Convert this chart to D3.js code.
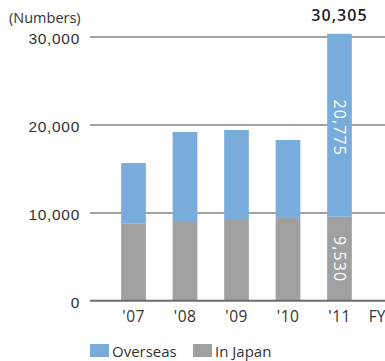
<!DOCTYPE html>
<html>
<head>
<meta charset="utf-8">
<script src="https://cdn.jsdelivr.net/npm/d3@7"></script>
<style>
  html, body { margin: 0; padding: 0; background: #fff; }
  svg { display: block; font-family: "Open Sans", "Noto Sans", sans-serif; }
</style>
</head>
<body>
<svg id="chart" width="385" height="361"></svg>
<script>
// Fiscal years shown on the x axis
const years = ["'07", "'08", "'09", "'10", "'11"];
// Units sold, split by market
const inJapan  = [8730, 8920, 9150, 9380, 9530];
const overseas = [6890, 10230, 10230, 8860, 20775];
// Value axis ticks
const yTicks = [0, 10000, 20000, 30000];
const seriesNames = ["In Japan", "Overseas"];
const colors = { "In Japan": "#a0a0a0", "Overseas": "#78addb" };

const svg = d3.select("#chart");
const fmt = d3.format(",");

const rows = years.map((y, i) => ({ year: y, "In Japan": inJapan[i], "Overseas": overseas[i] }));
const stacked = d3.stack().keys(seriesNames)(rows);

const x = d3.scaleBand().domain(years).range([107.75, 365.25]).paddingInner(0.52).paddingOuter(0.26);
const y = d3.scaleLinear().domain([0, 30000]).range([300.5, 36.5]);

// gridlines + tick labels
const axis = svg.append("g")
  .attr("transform", "translate(90,0)")
  .call(d3.axisLeft(y).tickValues(yTicks).tickFormat(fmt).tickSize(-295).tickPadding(10));
axis.select(".domain").remove();
axis.selectAll(".tick line").attr("stroke", "#858585").attr("stroke-width", 1.4);
axis.selectAll(".tick text").attr("fill", "#333").attr("font-size", 15.5)
  .attr("letter-spacing", 0.7).attr("dy", "0.45em");

svg.append("text").attr("x", 9).attr("y", 23)
  .attr("fill", "#333").attr("font-size", 14.5).text("(Numbers)");

// stacked bars
svg.append("g").selectAll("g").data(stacked).join("g")
  .attr("fill", d => colors[d.key])
  .selectAll("rect").data(d => d).join("rect")
  .attr("x", d => x(d.data.year))
  .attr("width", x.bandwidth())
  .attr("y", d => y(d[1]))
  .attr("height", d => y(d[0]) - y(d[1]));

// redraw baseline over the bars
svg.append("line").attr("x1", 90).attr("x2", 385)
  .attr("y1", y(0)).attr("y2", y(0)).attr("stroke", "#6f6a66").attr("stroke-width", 1.4);

// x labels
svg.append("g").selectAll("text").data(years).join("text")
  .attr("x", d => x(d) + x.bandwidth() / 2)
  .attr("y", 322)
  .attr("text-anchor", "middle").attr("fill", "#333").attr("font-size", 15.5)
  .attr("letter-spacing", 0.4)
  .text(d => d);
svg.append("text").attr("x", 377).attr("y", 322).attr("text-anchor", "middle")
  .attr("fill", "#333").attr("font-size", 15.5).text("FY");

// value labels for the latest year
const last = years.length - 1;
const cx = x(years[last]) + x.bandwidth() / 2;
const total = inJapan[last] + overseas[last];
svg.append("text").attr("x", cx).attr("y", 21).attr("text-anchor", "middle")
  .attr("fill", "#222").attr("font-size", 16).attr("font-weight", 600)
  .attr("letter-spacing", 1.1).text(fmt(total));

const segLabel = (val, lo, hi, dyOff) => {
  const cy = (y(lo) + y(hi)) / 2 + dyOff;
  svg.append("text")
    .attr("transform", `translate(${cx},${cy}) rotate(90)`)
    .attr("text-anchor", "middle").attr("dy", "0.35em")
    .attr("fill", "#fff").attr("font-size", 16).attr("letter-spacing", 1.1)
    .text(fmt(val));
};
segLabel(overseas[last], inJapan[last], total, 2.5);
segLabel(inJapan[last], 0, inJapan[last], 0.5);

// legend
const legend = [["Overseas", 90], ["In Japan", 193]];
legend.forEach(([name, lx]) => {
  svg.append("rect").attr("x", lx).attr("y", 344).attr("width", 19).attr("height", 13)
    .attr("fill", colors[name]);
  svg.append("text").attr("x", lx + 22).attr("y", 356.5)
    .attr("fill", "#333").attr("font-size", 15).text(name);
});
</script>
</body>
</html>
